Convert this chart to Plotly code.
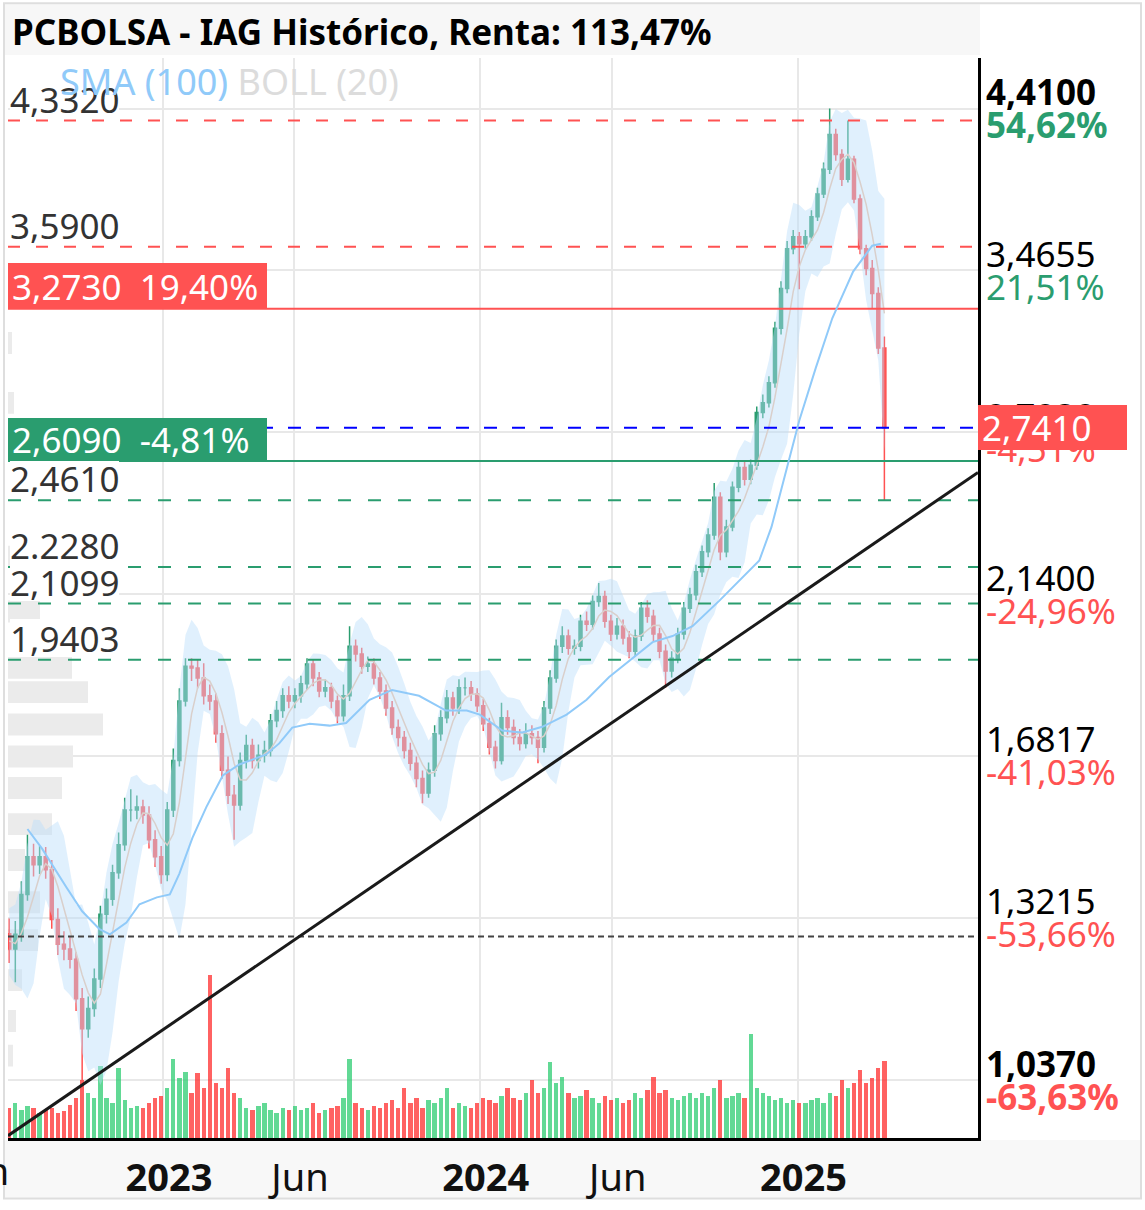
import numpy as np
import pandas as pd
import plotly.graph_objects as go

# ---------------- data (weekly) ----------------
first_week = "2022-07-08"

open_ = [1.290, 1.261, 1.289, 1.368, 1.447, 1.430, 1.447, 1.419, 1.318, 1.270,
         1.261, 1.242, 1.171, 1.120, 1.154, 1.206, 1.328, 1.358, 1.413, 1.473,
         1.551, 1.551, 1.558, 1.540, 1.484, 1.447, 1.409, 1.551, 1.670, 1.825,
         1.922, 1.917, 1.888, 1.839, 1.825, 1.738, 1.646, 1.586, 1.563, 1.670,
         1.708, 1.670, 1.683, 1.695, 1.772, 1.799, 1.839, 1.825, 1.839, 1.872,
         1.928, 1.888, 1.852, 1.861, 1.825, 1.785, 1.839, 1.980, 1.957, 1.922,
         1.928, 1.888, 1.852, 1.806, 1.754, 1.728, 1.695, 1.663, 1.626, 1.591,
         1.646, 1.738, 1.780, 1.833, 1.806, 1.861, 1.861, 1.844, 1.812, 1.764,
         1.703, 1.670, 1.780, 1.754, 1.728, 1.713, 1.738, 1.728, 1.703, 1.806,
         1.888, 1.980, 2.010, 1.974, 1.980, 2.055, 2.046, 2.116, 2.132, 2.055,
         2.016, 2.040, 2.004, 1.965, 2.010, 2.095, 2.070, 2.016, 1.965, 1.908,
         1.945, 2.016, 2.095, 2.138, 2.212, 2.279, 2.337, 2.472, 2.279, 2.365,
         2.509, 2.584, 2.539, 2.592, 2.804, 2.845, 2.931, 3.179, 3.373, 3.579,
         3.643, 3.606, 3.643, 3.753, 3.883, 4.029, 4.243, 4.119, 3.970, 4.089,
         3.854, 3.579, 3.475, 3.348, 3.087]

high = [1.320, 1.315, 1.395, 1.495, 1.475, 1.470, 1.468, 1.440, 1.340, 1.295,
        1.285, 1.255, 1.190, 1.175, 1.225, 1.345, 1.380, 1.430, 1.500, 1.580,
        1.600, 1.585, 1.575, 1.560, 1.505, 1.470, 1.570, 1.700, 1.860, 1.945,
        1.945, 1.940, 1.930, 1.870, 1.845, 1.760, 1.680, 1.610, 1.690, 1.735,
        1.725, 1.710, 1.720, 1.790, 1.825, 1.860, 1.865, 1.860, 1.895, 1.945,
        1.940, 1.905, 1.885, 1.875, 1.840, 1.870, 2.040, 2.000, 1.975, 1.950,
        1.945, 1.905, 1.870, 1.825, 1.775, 1.745, 1.715, 1.680, 1.645, 1.665,
        1.760, 1.800, 1.855, 1.850, 1.885, 1.890, 1.880, 1.860, 1.830, 1.780,
        1.720, 1.820, 1.800, 1.775, 1.750, 1.765, 1.760, 1.745, 1.825, 1.910,
        2.000, 2.040, 2.030, 2.000, 2.075, 2.085, 2.135, 2.175, 2.150, 2.075,
        2.065, 2.060, 2.025, 2.030, 2.115, 2.120, 2.090, 2.035, 1.985, 1.965,
        2.035, 2.115, 2.160, 2.235, 2.300, 2.360, 2.525, 2.490, 2.390, 2.530,
        2.610, 2.605, 2.615, 2.830, 2.880, 2.960, 3.210, 3.410, 3.620, 3.680,
        3.670, 3.680, 3.790, 3.920, 4.070, 4.410, 4.280, 4.150, 4.332, 4.110,
        3.880, 3.600, 3.520, 3.380, 3.140]

low = [1.235, 1.200, 1.275, 1.355, 1.405, 1.410, 1.400, 1.300, 1.250, 1.240,
       1.225, 1.150, 1.037, 1.105, 1.140, 1.190, 1.310, 1.345, 1.400, 1.460,
       1.525, 1.530, 1.520, 1.465, 1.425, 1.390, 1.395, 1.535, 1.655, 1.810,
       1.880, 1.860, 1.815, 1.800, 1.715, 1.625, 1.565, 1.484, 1.550, 1.650,
       1.650, 1.650, 1.665, 1.680, 1.755, 1.780, 1.805, 1.805, 1.820, 1.855,
       1.865, 1.835, 1.835, 1.805, 1.765, 1.770, 1.825, 1.935, 1.900, 1.905,
       1.870, 1.830, 1.785, 1.735, 1.705, 1.675, 1.645, 1.605, 1.567, 1.580,
       1.630, 1.720, 1.765, 1.785, 1.790, 1.840, 1.825, 1.795, 1.745, 1.685,
       1.650, 1.660, 1.735, 1.710, 1.695, 1.700, 1.710, 1.663, 1.690, 1.790,
       1.875, 1.960, 1.955, 1.955, 1.965, 2.025, 2.030, 2.100, 2.035, 1.995,
       2.000, 1.985, 1.945, 1.950, 1.995, 2.050, 1.995, 1.945, 1.861, 1.890,
       1.930, 2.000, 2.080, 2.120, 2.195, 2.260, 2.320, 2.250, 2.260, 2.350,
       2.490, 2.515, 2.520, 2.575, 2.780, 2.825, 2.910, 3.150, 3.350, 3.550,
       3.370, 3.580, 3.620, 3.730, 3.860, 4.000, 4.080, 3.930, 3.950, 3.830,
       3.550, 3.440, 3.273, 3.060, 2.461]

close = [1.261, 1.289, 1.368, 1.447, 1.430, 1.447, 1.419, 1.318, 1.270, 1.261,
         1.242, 1.171, 1.120, 1.154, 1.206, 1.328, 1.358, 1.413, 1.473, 1.551,
         1.551, 1.558, 1.540, 1.484, 1.447, 1.409, 1.551, 1.670, 1.825, 1.922,
         1.917, 1.888, 1.839, 1.825, 1.738, 1.646, 1.586, 1.563, 1.670, 1.708,
         1.670, 1.683, 1.695, 1.772, 1.799, 1.839, 1.825, 1.839, 1.872, 1.928,
         1.888, 1.852, 1.861, 1.825, 1.785, 1.839, 1.980, 1.957, 1.922, 1.928,
         1.888, 1.852, 1.806, 1.754, 1.728, 1.695, 1.663, 1.626, 1.591, 1.646,
         1.738, 1.780, 1.833, 1.806, 1.861, 1.861, 1.844, 1.812, 1.764, 1.703,
         1.670, 1.780, 1.754, 1.728, 1.713, 1.738, 1.728, 1.703, 1.806, 1.888,
         1.980, 2.010, 1.974, 1.980, 2.055, 2.046, 2.116, 2.132, 2.055, 2.016,
         2.040, 2.004, 1.965, 2.010, 2.095, 2.070, 2.016, 1.965, 1.908, 1.945,
         2.016, 2.095, 2.138, 2.212, 2.279, 2.337, 2.472, 2.279, 2.365, 2.509,
         2.584, 2.539, 2.592, 2.804, 2.845, 2.931, 3.179, 3.373, 3.579, 3.643,
         3.606, 3.643, 3.753, 3.883, 4.029, 4.243, 4.119, 3.970, 4.089, 3.854,
         3.579, 3.475, 3.348, 3.087, 2.741]

volume = [30, 35, 28, 32, 30, 25, 28, 30, 25, 27,
          33, 40, 58, 45, 40, 72, 40, 35, 70, 38,
          30, 32, 30, 35, 40, 42, 50, 80, 60, 66,
          45, 65, 50, 164, 55, 50, 70, 45, 40, 30,
          28, 32, 35, 28, 25, 30, 28, 32, 28, 30,
          35, 25, 28, 30, 32, 40, 80, 35, 30, 28,
          32, 30, 35, 38, 30, 50, 35, 40, 30, 38,
          35, 40, 50, 30, 35, 32, 30, 35, 40, 38,
          35, 42, 50, 40, 38, 45, 58, 45, 50, 77,
          55, 61, 45, 40, 42, 48, 40, 35, 42, 38,
          40, 35, 38, 45, 40, 48, 61, 45, 48, 40,
          38, 42, 45, 40, 45, 42, 50, 58, 40, 42,
          45, 40, 105, 50, 45, 42, 38, 40, 35, 38,
          35, 35, 38, 40, 35, 45, 42, 58, 50, 55,
          68, 55, 60, 70, 78]

sma_dates = ["2022-07-29", "2022-08-15", "2022-09-12", "2022-09-30", "2022-10-20",
             "2022-11-01", "2022-11-20", "2022-12-05", "2022-12-25", "2023-01-09",
             "2023-01-20", "2023-02-04", "2023-02-20", "2023-03-11", "2023-03-30",
             "2023-04-30", "2023-05-15", "2023-05-30", "2023-06-19", "2023-07-12",
             "2023-07-31", "2023-08-27", "2023-09-22", "2023-10-23", "2023-11-23",
             "2023-12-17", "2024-01-01", "2024-01-27", "2024-02-19", "2024-03-13",
             "2024-04-10", "2024-05-03", "2024-05-29", "2024-06-25", "2024-07-18",
             "2024-08-10", "2024-09-02", "2024-10-03", "2024-11-18", "2024-12-02",
             "2025-01-03", "2025-01-22", "2025-02-10", "2025-03-06", "2025-03-28",
             "2025-04-07"]
sma_vals = [1.508, 1.464, 1.382, 1.334, 1.299, 1.289, 1.312, 1.348, 1.362, 1.368,
            1.411, 1.488, 1.558, 1.633, 1.660, 1.685, 1.713, 1.754, 1.764, 1.759,
            1.766, 1.828, 1.855, 1.839, 1.799, 1.799, 1.788, 1.746, 1.741, 1.756,
            1.788, 1.828, 1.891, 1.945, 1.992, 2.010, 2.040, 2.119, 2.250, 2.365,
            2.771, 2.997, 3.227, 3.459, 3.595, 3.606]

profile_price = [3.110, 2.845, 2.262, 2.085, 1.917, 1.849, 1.762, 1.680, 1.603,
                 1.519, 1.440, 1.352, 1.278, 1.204, 1.133, 1.076]
profile_vol = [4, 6, 4, 32, 64, 80, 95, 65, 54, 44, 17, 32, 30, 14, 8, 5]

x_start, x_end = "2022-07-06 14:00", "2025-07-27 20:00"
trend_prices = [0.955, 2.565]

red_dashed = [4.332, 3.590]
green_dashed = [2.461, 2.228, 2.1099, 1.9403]
red_solid = 3.273
green_solid = 2.609
last_price = 2.741
dotted_level = 1.285

left_levels = [4.332, 3.590, 2.461, 2.228, 2.1099, 1.9403]
left_texts = ["4,3320", "3,5900", "2,4610", "2.2280", "2,1099", "1,9403"]

right_vals = [4.41, 3.4655, 2.7232, 2.14, 1.6817, 1.3215, 1.037]
right_txt = ["4,4100", "3,4655", "2,7232", "2,1400", "1,6817", "1,3215", "1,0370"]
right_pct = ["54,62%", "21,51%", "-4,51%", "-24,96%", "-41,03%", "-53,66%", "-63,63%"]
right_bold = [True, False, False, False, False, False, True]

x_tickvals = ["2023-01-01", "2023-06-01", "2024-01-01", "2024-06-01", "2025-01-01"]
x_ticktext = ["<b>2023</b>", "Jun", "<b>2024</b>", "Jun", "<b>2025</b>"]

title_text = "PCBOLSA - IAG Histórico, Renta: 113,47%"

# ---------------- styles ----------------
FONT = "Noto Sans"
GREEN = "#2a9d6f"
RED = "#ff5252"
FS = 35
W, H = 1145, 1210
ML, MR, MT, MB = 8, 167, 58, 65
PW, PH = W - ML - MR, H - MT - MB


def px_x(p):
    return (p - ML) / PW


def px_y(p):
    return (H - MB - p) / PH


dates = pd.date_range(first_week, periods=len(close), freq="7D")

# Bollinger (20) from intra-week O/H/L/C samples (4 per week -> 16 ~ 20 sessions)
seq = pd.Series(np.ravel(np.column_stack([open_, high, low, close])))
mid = seq.rolling(16, min_periods=4).mean()
sd = seq.rolling(16, min_periods=4).std(ddof=0)
idx = np.arange(len(close)) * 4 + 3
bb_mid = mid.values[idx]
bb_up = (mid + 2 * sd).values[idx]
bb_lo = (mid - 2 * sd).values[idx]

fig = go.Figure()

# volume profile (base subplot x2/y2)
HALF = 0.0163
ppx, ppy = [], []
for c, v in zip(profile_price, profile_vol):
    lo_, hi_ = c * np.exp(-HALF), c * np.exp(HALF)
    ppx += [0, v, v, 0, 0, None]
    ppy += [lo_, lo_, hi_, hi_, lo_, None]
fig.add_trace(go.Scatter(x=ppx, y=ppy, xaxis="x2", yaxis="y2", mode="lines",
                         fill="toself", fillcolor="#ebebeb", line=dict(width=0),
                         hoverinfo="skip"))

# volume bars (x / y)
vcol = ["rgba(46,204,113,0.75)" if c >= o else "rgba(255,45,45,0.75)"
        for o, c in zip(open_, close)]
fig.add_trace(go.Bar(x=dates, y=volume, xaxis="x", yaxis="y", marker_color=vcol,
                     marker_line_width=0, width=5 * 86400000, hoverinfo="skip"))

# price subplot (x / y2)
fig.add_trace(go.Scatter(x=dates, y=bb_up, xaxis="x", yaxis="y2", mode="lines",
                         line=dict(width=0), hoverinfo="skip"))
fig.add_trace(go.Scatter(x=dates, y=bb_lo, xaxis="x", yaxis="y2", mode="lines",
                         line=dict(width=0), fill="tonexty",
                         fillcolor="rgba(187,222,251,0.45)", hoverinfo="skip"))
fig.add_trace(go.Scatter(x=dates, y=bb_mid, xaxis="x", yaxis="y2", mode="lines",
                         line=dict(width=1.5, color="#d9cfcb"), hoverinfo="skip"))


def hline(level, color, dash, width=2):
    fig.add_trace(go.Scatter(x=[x_start, x_end], y=[level, level], xaxis="x", yaxis="y2",
                             mode="lines", line=dict(color=color, dash=dash, width=width),
                             hoverinfo="skip"))


for lv in red_dashed:
    hline(lv, RED, "12px,16px")
for lv in green_dashed:
    hline(lv, GREEN, "13px,17px")
hline(red_solid, RED, "solid")
hline(green_solid, GREEN, "solid")
hline(last_price, "#0000ff", "13px,15px")
hline(dotted_level, "#444444", "6px,4px")

fig.add_trace(go.Scatter(x=sma_dates, y=sma_vals, xaxis="x", yaxis="y2", mode="lines",
                         line=dict(color="#90caf9", width=2), hoverinfo="skip"))

fig.add_trace(go.Candlestick(x=dates, open=open_, high=high, low=low, close=close,
                             xaxis="x", yaxis="y2", whiskerwidth=0,
                             increasing=dict(line=dict(color=GREEN, width=1.5), fillcolor=GREEN),
                             decreasing=dict(line=dict(color=RED, width=1.5), fillcolor=RED),
                             hoverinfo="skip"))

fig.add_trace(go.Scatter(x=[x_start, x_end], y=trend_prices, xaxis="x", yaxis="y2",
                         mode="lines", line=dict(color="#1a1a1a", width=3), hoverinfo="skip"))

# ---------------- annotations ----------------
ann = []
ann.append(dict(xref="paper", yref="paper", x=px_x(10), y=px_y(31), xanchor="left",
                yanchor="middle", showarrow=False, text="<b>" + title_text + "</b>",
                font=dict(family=FONT, size=FS, color="#000")))
for lv, t in zip(left_levels, left_texts):
    ann.append(dict(xref="paper", yref="y2", x=0, y=np.log10(lv), xanchor="left",
                    yanchor="middle", yshift=22, xshift=2, showarrow=False, text=t,
                    bgcolor="white", borderpad=0, borderwidth=0, height=38,
                    font=dict(family=FONT, size=FS, color="#333")))
ann.append(dict(xref="paper", yref="paper", x=px_x(58), y=px_y(82), xanchor="left",
                yanchor="middle", showarrow=False,
                text="<span style='color:#90caf9'>SMA (100)</span> "
                     "<span style='color:#dcdcdc'>BOLL (20)</span>",
                font=dict(family=FONT, size=36)))
ann.append(dict(xref="paper", yref="y2", x=0, y=np.log10(red_solid), xanchor="left",
                yanchor="bottom", showarrow=False, align="left", width=251, height=38,
                bgcolor=RED, borderpad=4, borderwidth=0,
                text="3,2730&nbsp;&nbsp;19,40%",
                font=dict(family=FONT, size=FS, color="white")))
ann.append(dict(xref="paper", yref="y2", x=0, y=np.log10(green_solid), xanchor="left",
                yanchor="bottom", showarrow=False, align="left", width=251, height=35,
                bgcolor=GREEN, borderpad=4, borderwidth=0,
                text="2,6090&nbsp;&nbsp;-4,81%",
                font=dict(family=FONT, size=FS, color="white")))
for v, t, p, b in zip(right_vals, right_txt, right_pct, right_bold):
    pc = RED if p.startswith("-") else GREEN
    tt = "<b>%s</b>" % t if b else t
    pp = "<b>%s</b>" % p if b else p
    ann.append(dict(xref="paper", yref="y2", x=1, y=np.log10(v), xanchor="left",
                    yanchor="middle", xshift=6, yshift=17, showarrow=False, text=tt,
                    font=dict(family=FONT, size=FS, color="#000")))
    ann.append(dict(xref="paper", yref="y2", x=1, y=np.log10(v), xanchor="left",
                    yanchor="middle", xshift=6, yshift=-16, showarrow=False, text=pp,
                    font=dict(family=FONT, size=FS, color=pc)))
ann.append(dict(xref="paper", yref="y2", x=1, y=np.log10(last_price), xanchor="left",
                yanchor="middle", showarrow=False, align="left", width=141, height=37,
                bgcolor=RED, borderpad=4, borderwidth=0, text="2,7410",
                font=dict(family=FONT, size=FS, color="white")))
ann.append(dict(xref="paper", yref="paper", x=px_x(11), y=px_y(1177), xanchor="right",
                yanchor="middle", showarrow=False, text="Jun",
                font=dict(family=FONT, size=38, color="#111")))

shapes = [
    dict(type="rect", xref="paper", yref="paper", x0=px_x(5), x1=px_x(980),
         y0=px_y(55), y1=px_y(4), fillcolor="#f7f7f7", line=dict(width=0), layer="below"),
    dict(type="rect", xref="paper", yref="paper", x0=px_x(5), x1=px_x(1140),
         y0=px_y(1205), y1=px_y(1147), fillcolor="#f8f8f8", line=dict(width=0), layer="below"),
    dict(type="rect", xref="paper", yref="paper", x0=px_x(4), x1=px_x(1141),
         y0=px_y(1206), y1=px_y(3), line=dict(color="#dedede", width=2), layer="below"),
]

fig.update_layout(
    width=W, height=H, margin=dict(l=ML, r=MR, t=MT, b=MB),
    paper_bgcolor="white", plot_bgcolor="white", showlegend=False,
    font=dict(family=FONT),
    annotations=ann, shapes=shapes, bargap=0,
    xaxis=dict(type="date", range=[x_start, x_end], overlaying="x2", anchor="y2",
               tickvals=x_tickvals, ticktext=x_ticktext, ticks="",
               tickfont=dict(family=FONT, size=38, color="#111"), ticklabelstandoff=4,
               ticklabelshift=6,
               showgrid=True, gridcolor="#e8e8e8", gridwidth=2,
               showline=True, linecolor="#000", linewidth=3, zeroline=False,
               rangeslider=dict(visible=False)),
    xaxis2=dict(range=[0, PW], visible=False, anchor="y2"),
    yaxis=dict(range=[0, PH], overlaying="y2", visible=False),
    yaxis2=dict(type="log", range=[np.log10(0.9517), np.log10(4.755)], side="right",
                anchor="x2", tickvals=right_vals, showticklabels=False, ticks="",
                showgrid=True, gridcolor="#e8e8e8", gridwidth=2,
                showline=True, linecolor="#000", linewidth=3, zeroline=False),
)

fig.write_html("out.html", config={"displayModeBar": False},
               post_script="document.documentElement.style.overflow='hidden';"
                           "document.body.style.overflow='hidden';"
                           "document.body.style.margin='0px';")
